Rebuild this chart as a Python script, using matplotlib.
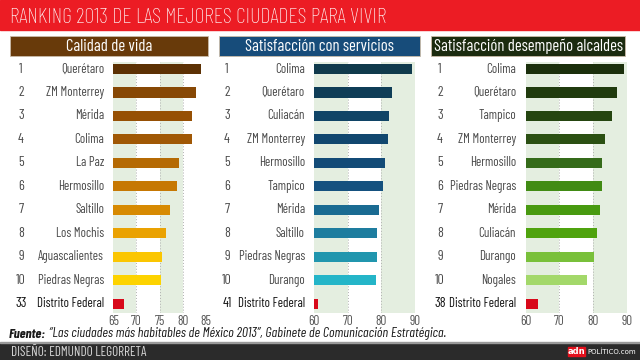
import matplotlib
matplotlib.use("Agg")
from matplotlib import pyplot as plt
from matplotlib import font_manager
from matplotlib import transforms
from matplotlib.patches import Rectangle

# narrow font, first one installed wins
names = set(f.name for f in font_manager.fontManager.ttflist)
FONT = 'DejaVu Sans'
for cand in ['Barlow Condensed', 'Archivo Narrow', 'Roboto Condensed', 'Asap Condensed']:
    if cand in names:
        FONT = cand
        break
plt.rcParams['font.family'] = [FONT, 'DejaVu Sans']

title = 'RANKING 2013 DE LAS MEJORES CIUDADES PARA VIVIR'

# panel 1: calidad de vida
cal_title = 'Calidad de vida'
cal_ranks = ['1', '2', '3', '4', '5', '6', '7', '8', '9', '10', '33']
cal_cities = ['Querétaro', 'ZM Monterrey', 'Mérida', 'Colima', 'La Paz', 'Hermosillo',
              'Saltillo', 'Los Mochis', 'Aguascalientes', 'Piedras Negras', 'Distrito Federal']
cal_vals = [84.0, 82.8, 82.0, 81.9, 79.2, 78.8, 77.3, 76.3, 75.4, 75.3, 67.4]
cal_ticks = [65, 70, 75, 80, 85]

# panel 2: satisfaccion con servicios
ser_title = 'Satisfacción con servicios'
ser_ranks = ['1', '2', '3', '4', '5', '6', '7', '8', '9', '10', '41']
ser_cities = ['Colima', 'Querétaro', 'Culiacán', 'ZM Monterrey', 'Hermosillo', 'Tampico',
              'Mérida', 'Saltillo', 'Piedras Negras', 'Durango', 'Distrito Federal']
ser_vals = [89.2, 83.1, 82.4, 82.0, 81.1, 80.5, 79.4, 78.8, 78.8, 78.5, 61.2]
ser_ticks = [60, 70, 80, 90]

# panel 3: satisfaccion desempeno alcaldes
alc_title = 'Satisfacción desempeño alcaldes'
alc_ranks = ['1', '2', '3', '4', '5', '6', '7', '8', '9', '10', '38']
alc_cities = ['Colima', 'Querétaro', 'Tampico', 'ZM Monterrey', 'Hermosillo', 'Piedras Negras',
              'Mérida', 'Culiacán', 'Durango', 'Nogales', 'Distrito Federal']
alc_vals = [89.1, 86.9, 85.6, 83.6, 82.7, 82.5, 82.1, 81.2, 80.1, 78.1, 63.7]
alc_ticks = [60, 70, 80, 90]

RED = '#d8091a'
cal_colors = ['#5c3104', '#874805', '#965004', '#a05805', '#b56a04', '#c67803',
              '#d78a02', '#eaa202', '#fbc602', '#fdd300', RED]
ser_colors = ['#103a4c', '#0f3d57', '#104466', '#11476f', '#134b77', '#15517f',
              '#1a6b92', '#1e7d9f', '#2196ae', '#24b5c8', RED]
alc_colors = ['#1b2f0c', '#203b0e', '#254510', '#2b5013', '#356b1a', '#418b14',
              '#489a10', '#4fa30e', '#79c03a', '#a3d86a', RED]

W, H = 640, 360
fig = plt.figure(figsize=(6.4, 3.6), dpi=100)
fig.patch.set_facecolor('white')

def fx(px):
    return px / W

def fy(py):
    return 1 - py / H

# title band
fig.patches.append(Rectangle((0, fy(30)), 1, 30 / H, transform=fig.transFigure,
                             color='#ec1c24', zorder=0))
fig.text(fx(10), fy(17.5), title, color='white', fontsize=15.8, va='center', ha='left',
         fontweight='light')

# footer band
fig.patches.append(Rectangle((0, 0), 1, 17 / H, transform=fig.transFigure,
                             color='#2b2b2b', zorder=0))
fig.patches.append(Rectangle((0, 17 / H), 1, 1 / H, transform=fig.transFigure,
                             color='#9a9a9a', zorder=0))
fig.text(fx(11), fy(352), 'DISEÑO: EDMUNDO LEGORRETA', color='#d8d8d8', fontsize=9.5,
         va='center', ha='left')
fig.patches.append(Rectangle((fx(568), fy(356)), 17 / W, 9 / H, transform=fig.transFigure,
                             color='#e3101c', zorder=1))
fig.text(fx(576.5), fy(351.5), 'adn', color='white', fontsize=6, fontweight='bold',
         va='center', ha='center', family='DejaVu Sans')
fig.text(fx(587), fy(351.5), 'POLÍTICO.com', color='white', fontsize=5,
         va='center', ha='left', family='DejaVu Sans')

# source: bold label, then the rest placed right after it
renderer = fig.canvas.get_renderer()
src = fig.text(fx(9), fy(334), 'Fuente:', color='#1a1a1a', fontsize=10, fontweight='bold',
               style='italic', va='center', ha='left')
bb = src.get_window_extent(renderer)
fig.text(bb.x1 / W + fx(3), fy(334),
         '\u201cLas ciudades más habitables de México 2013\u201d, Gabinete de Comunicación Estratégica.',
         color='#1a1a1a', fontsize=10, style='italic', va='center', ha='left')

panels = [
    dict(head=cal_title, hc='#683a0a', box=(10, 208), ranks=cal_ranks, cities=cal_cities,
         vals=cal_vals, colors=cal_colors, ticks=cal_ticks, ax=(113.3, 206),
         xr=21, xc=104, bands=[(65, 70), (75, 80)]),
    dict(head=ser_title, hc='#174c7a', box=(219, 420), ranks=ser_ranks, cities=ser_cities,
         vals=ser_vals, colors=ser_colors, ticks=ser_ticks, ax=(314, 415),
         xr=227, xc=305, bands=[(60, 70), (80, 90)]),
    dict(head=alc_title, hc='#1b2b0f', box=(431, 625), ranks=alc_ranks, cities=alc_cities,
         vals=alc_vals, colors=alc_colors, ticks=alc_ticks, ax=(525.5, 627),
         xr=440, xc=516, bands=[(60, 70), (80, 90)]),
]

TOP, BOT = 62, 313
for p in panels:
    b0, b1 = p['box']
    fig.patches.append(Rectangle((fx(b0), fy(56)), (b1 - b0) / W, 20 / H,
                                 transform=fig.transFigure, facecolor=p['hc'],
                                 edgecolor='#c9bba8', linewidth=0.6, zorder=1))
    fig.text(fx((b0 + b1) / 2), fy(46.5), p['head'], color='white', fontsize=12,
             va='center', ha='center')

    a0, a1 = p['ax']
    ax = fig.add_axes([fx(a0), fy(BOT), (a1 - a0) / W, (BOT - TOP) / H])
    n = len(p['vals'])
    lo, hi = p['ticks'][0], p['ticks'][-1]
    ypos = list(range(n))
    ax.barh(ypos, [v - lo for v in p['vals']], left=lo, height=0.43,
            color=p['colors'], zorder=3)
    for s, e in p['bands']:
        ax.axvspan(s, e, color='#e4eee0', zorder=0, lw=0)
    for t in p['ticks'][1:]:
        ax.axvline(t, color='#b0b0b0', lw=0.7, ls=(0, (1, 2)), zorder=1)
    ax.set_xlim(lo, hi)
    ax.set_ylim(10.4, -0.3)
    ax.set_xticks(p['ticks'])
    ax.set_yticks([])
    ax.tick_params(axis='x', length=0, pad=1.5, labelsize=9.5, labelcolor='#555555')
    for sp in ax.spines.values():
        sp.set_visible(False)
    ax.patch.set_alpha(0)

    tr = transforms.blended_transform_factory(fig.transFigure, ax.transData)
    for i in range(n):
        last = i == n - 1
        col = '#111111' if last else '#4a4a4a'
        fig.text(fx(p['xr']), i, p['ranks'][i], transform=tr, color=col, fontsize=10,
                 va='center', ha='center')
        fig.text(fx(p['xc']), i, p['cities'][i], transform=tr, color=col, fontsize=9.3,
                 va='center', ha='right')

fig.savefig('out.png', dpi=100)
